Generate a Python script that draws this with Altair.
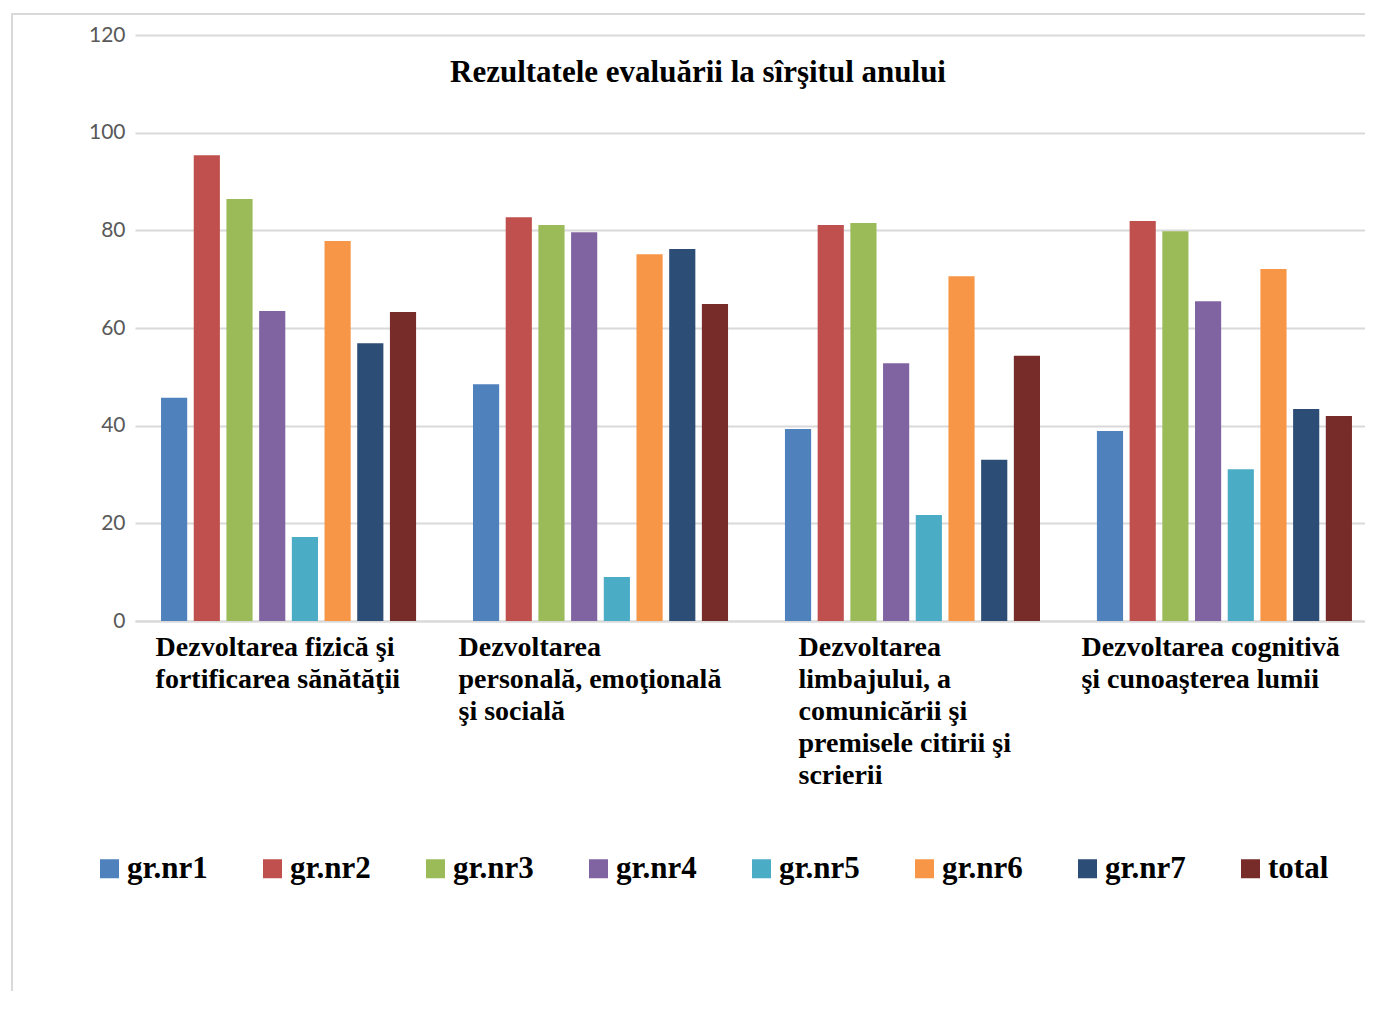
import altair as alt
import pandas as pd

title_text = "Rezultatele evaluării la sîrşitul anului"
categories = [
    "Dezvoltarea fizică şi\nfortificarea sănătăţii",
    "Dezvoltarea\npersonală, emoţională\nşi socială",
    "Dezvoltarea\nlimbajului,  a\ncomunicării şi\npremisele citirii şi\nscrierii",
    "Dezvoltarea cognitivă\nşi cunoaşterea lumii",
]
series = ["gr.nr1", "gr.nr2", "gr.nr3", "gr.nr4", "gr.nr5", "gr.nr6", "gr.nr7", "total"]
colors = ["#4F81BD", "#C0504D", "#9BBB59", "#8064A2", "#4BACC6", "#F79646", "#2C4D75", "#772C2A"]

gr_nr1 = [45.7, 48.5, 39.3, 38.9]
gr_nr2 = [95.4, 82.7, 81.1, 81.9]
gr_nr3 = [86.4, 81.1, 81.5, 79.8]
gr_nr4 = [63.5, 79.6, 52.8, 65.5]
gr_nr5 = [17.2, 9.0, 21.7, 31.1]
gr_nr6 = [77.8, 75.1, 70.6, 72.1]
gr_nr7 = [56.9, 76.2, 33.0, 43.4]
total = [63.3, 64.9, 54.3, 42.0]

values = [gr_nr1, gr_nr2, gr_nr3, gr_nr4, gr_nr5, gr_nr6, gr_nr7, total]
rows = []
for s, vals in zip(series, values):
    for c, v in zip(categories, vals):
        rows.append({"cat": c, "grupa": s, "val": v})
df = pd.DataFrame(rows)

offsets = [-133, -142, -114, -143]
label_offset = {
    "condition": [
        {"test": f"datum.value === {repr(c)}".replace("\n", "\\n"), "value": o}
        for c, o in zip(categories, offsets)
    ],
    "value": 0,
}

bars = alt.Chart(df).mark_bar().encode(
    x=alt.X(
        "cat:N",
        sort=categories,
        title=None,
        scale=alt.Scale(paddingInner=0.1615, paddingOuter=0.073, range=[0, 1243]),
        axis=alt.Axis(
            labelExpr="split(datum.label, '\\n')",
            labelAngle=0,
            labelAlign="left",
            labelBaseline="top",
            labelFont="Liberation Serif",
            labelFontWeight="bold",
            labelFontSize=28,
            labelLineHeight=32,
            labelColor="#000000",
            labelLimit=0,
            labelPadding=12,
            labelOffset=label_offset,
            ticks=False,
            domainColor="#d9d9d9",
            domainWidth=2,
            grid=False,
        ),
    ),
    xOffset=alt.XOffset("grupa:N", sort=series, scale=alt.Scale(paddingInner=0.2, paddingOuter=0.1)),
    y=alt.Y(
        "val:Q",
        title=None,
        scale=alt.Scale(domain=[0, 120], nice=False),
        axis=alt.Axis(
            values=[0, 20, 40, 60, 80, 100, 120],
            domain=False,
            ticks=False,
            labelFont="Lato",
            labelFontSize=21,
            labelColor="#595959",
            labelPadding=10,
            gridColor="#d9d9d9",
            gridWidth=2,
        ),
    ),
    color=alt.Color(
        "grupa:N",
        sort=series,
        scale=alt.Scale(domain=series, range=colors),
        legend=alt.Legend(
            title=None,
            orient="none",
            direction="horizontal",
            legendX=-41,
            legendY=818,
            symbolType="square",
            symbolSize=361,
            symbolStrokeWidth=0,
            symbolOpacity=1,
            labelFont="Liberation Serif",
            labelFontWeight="bold",
            labelFontSize=31,
            labelColor="#000000",
            labelOffset=2,
            columnPadding=49,
            padding=0,
        ),
    ),
)

one = pd.DataFrame({"a": [0]})
frame = alt.Chart(one).mark_rect(fill=None, stroke="#d9d9d9", strokeWidth=2).encode(
    x=alt.value(-123), x2=alt.value(1400), y=alt.value(-21), y2=alt.value(1100)
)

title = alt.Chart(one).mark_text(
    font="Liberation Serif",
    fontWeight="bold",
    fontSize=31,
    color="#000000",
    align="center",
    baseline="alphabetic",
).encode(x=alt.value(563), y=alt.value(47), text=alt.value(title_text))

chart = alt.layer(frame, bars, title).properties(
    width=1230,
    height=586,
    autosize=alt.AutoSizeParams(type="none"),
    padding={"left": 127, "top": 27, "right": 0, "bottom": 370},
).configure_view(stroke=None)

chart.save("out.html", embed_options={"renderer": "svg", "actions": False})
